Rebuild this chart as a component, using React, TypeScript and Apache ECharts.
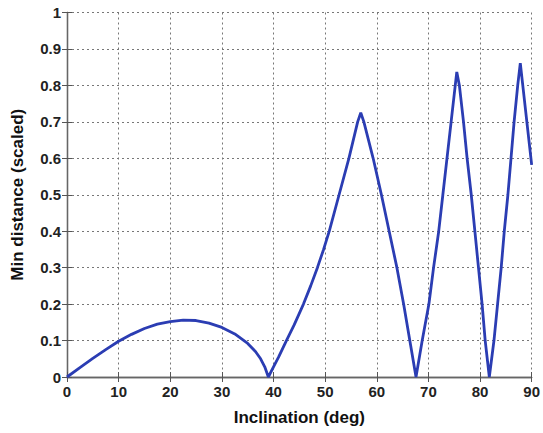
import React, { useEffect, useRef } from "react";
import * as echarts from "echarts";

const inclination = [
  0, 2.5, 5, 7.5, 10, 12.5, 15, 17.5, 20, 22.5, 25, 27.5, 30, 32.5, 35, 36.5, 37.5, 38.3, 39,
  40, 41, 42.5, 44, 45.8, 47.2, 48.5, 49.7, 50.8, 52.7, 54.6, 56.3, 56.9,
  57.5, 59.3, 60.9, 62.4, 63.9, 65.2, 66.4, 67.6,
  68.8, 70.1, 71.0, 72.0, 72.8, 73.6, 74.4, 75.2, 75.5,
  76.0, 76.8, 77.5, 78.3, 79.0, 79.7, 80.4, 81.0, 81.8,
  82.7, 83.4, 84.1, 84.7, 85.4, 86.0, 86.6, 87.3, 87.8,
  90,
];
const minDistance = [
  0, 0.026, 0.051, 0.075, 0.098, 0.117, 0.133, 0.145, 0.152, 0.156, 0.155, 0.148, 0.136, 0.118, 0.092, 0.07, 0.05, 0.028, 0,
  0.028, 0.055, 0.1, 0.143, 0.2, 0.25, 0.3, 0.35, 0.4, 0.5, 0.6, 0.7, 0.725,
  0.7, 0.6, 0.5, 0.4, 0.3, 0.2, 0.1, 0,
  0.1, 0.2, 0.3, 0.4, 0.5, 0.6, 0.7, 0.8, 0.837,
  0.8, 0.7, 0.6, 0.5, 0.4, 0.3, 0.2, 0.1, 0,
  0.1, 0.2, 0.3, 0.4, 0.5, 0.6, 0.7, 0.8, 0.861,
  0.582,
];

const xTitle = "Inclination (deg)";
const yTitle = "Min distance (scaled)";

export default function App() {
  const ref = useRef<HTMLDivElement>(null);
  useEffect(() => {
    if (!ref.current) return;
    const chart = echarts.init(ref.current, undefined, { renderer: "svg" });
    const font = "Liberation Sans, Arial, sans-serif";
    const axisLine = { show: true, lineStyle: { color: "#666", width: 1.3 } };
    const tick = { show: true, inside: true, length: 5, lineStyle: { color: "#555", width: 1 } };
    const grid = { show: true, lineStyle: { color: "#777", type: [2, 3] as any, width: 1 } };
    const label = { color: "#222", fontFamily: font, fontSize: 15, fontWeight: "bold" as const };
    chart.setOption({
      animation: false,
      grid: { left: 67, right: 11, top: 12.5, bottom: 56, containLabel: false },
      xAxis: [
        {
          type: "value", min: 0, max: 90, interval: 10,
          name: xTitle, nameLocation: "middle", nameGap: 32,
          nameTextStyle: { color: "#111", fontFamily: font, fontSize: 17, fontWeight: "bold" },
          axisLine, axisTick: tick, splitLine: grid,
          axisLabel: { ...label, margin: 7 },
        },
        {
          type: "value", min: 0, max: 90, interval: 10, position: "top",
          axisLine, axisTick: tick, splitLine: { show: false }, axisLabel: { show: false },
        },
      ],
      yAxis: [
        {
          type: "value", min: 0, max: 1, interval: 0.1,
          name: yTitle, nameLocation: "middle", nameGap: 41,
          nameTextStyle: { color: "#111", fontFamily: font, fontSize: 17, fontWeight: "bold" },
          axisLine, axisTick: tick, splitLine: grid,
          axisLabel: { ...label, margin: 6 },
        },
        {
          type: "value", min: 0, max: 1, interval: 0.1, position: "right",
          axisLine, axisTick: tick, splitLine: { show: false }, axisLabel: { show: false },
        },
      ],
      series: [
        {
          type: "line",
          data: inclination.map((x, i) => [x, minDistance[i]]),
          showSymbol: false,
          smooth: false,
          lineStyle: { color: "#2b3db3", width: 2.8 },
          clip: true,
        },
      ],
    });
    return () => chart.dispose();
  }, []);
  return (
    <div
      ref={ref}
      style={{ position: "absolute", left: 0, top: 0, width: 543, height: 433, background: "#fff" }}
    />
  );
}
